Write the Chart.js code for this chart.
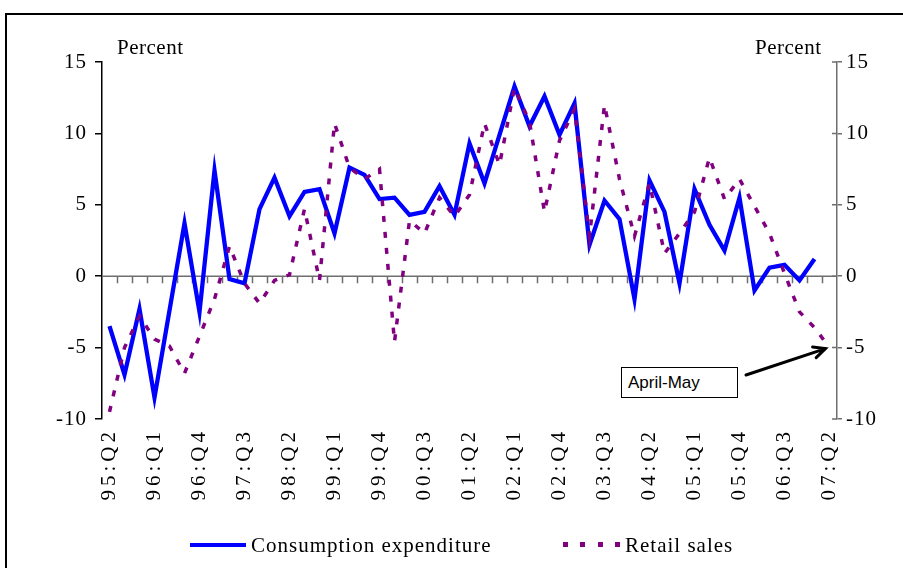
<!DOCTYPE html>
<html><head><meta charset="utf-8">
<script src="https://cdn.jsdelivr.net/npm/chart.js@4"></script>
<style>
body{margin:0;background:#fff;}
#wrap{position:relative;width:903px;height:568px;overflow:hidden;background:#fff;}
#frame{position:absolute;left:5px;top:13px;width:1000px;height:1000px;border-left:2px solid #000;border-top:2px solid #000;}
canvas{position:absolute;left:0;top:0;}
.t{position:absolute;font-family:"Liberation Serif","Times New Roman",serif;font-size:21px;color:#000;white-space:nowrap;line-height:1;}
#note{position:absolute;left:621px;top:367px;width:109px;height:29px;border:1.5px solid #000;background:#fff;font-family:"Liberation Sans",Arial,sans-serif;font-size:17px;line-height:29px;padding-left:6px;box-sizing:content-box;}
</style></head>
<body>
<div id="wrap">
<div id="frame"></div>
<canvas id="c" width="903" height="568"></canvas>
<div class="t" style="left:117px;top:37px;letter-spacing:0.5px;">Percent</div>
<div class="t" style="left:755px;top:37px;letter-spacing:0.5px;">Percent</div>
<div id="note">April-May</div>
<div style="position:absolute;left:190px;top:543px;width:56px;height:4px;background:#0000ff;"></div>
<div class="t" style="left:251px;top:535px;letter-spacing:1px;">Consumption expenditure</div>
<div style="position:absolute;left:563px;top:542px;width:58px;height:5px;background:repeating-linear-gradient(90deg,#800080 0 5px,transparent 5px 17.5px);"></div>
<div class="t" style="left:625px;top:535px;letter-spacing:1px;">Retail sales</div>
</div>
<script>
const quarters = ['95:Q2','95:Q3','95:Q4','96:Q1','96:Q2','96:Q3','96:Q4','97:Q1','97:Q2','97:Q3','97:Q4','98:Q1','98:Q2','98:Q3','98:Q4','99:Q1','99:Q2','99:Q3','99:Q4','00:Q1','00:Q2','00:Q3','00:Q4','01:Q1','01:Q2','01:Q3','01:Q4','02:Q1','02:Q2','02:Q3','02:Q4','03:Q1','03:Q2','03:Q3','03:Q4','04:Q1','04:Q2','04:Q3','04:Q4','05:Q1','05:Q2','05:Q3','05:Q4','06:Q1','06:Q2','06:Q3','06:Q4','07:Q1','07:Q2'];
const consumption = [-3.5,-6.9,-2.3,-8.5,-2.4,3.7,-2.5,7.4,-0.2,-0.5,4.7,6.9,4.2,5.9,6.1,3.0,7.6,7.1,5.4,5.5,4.3,4.5,6.3,4.3,9.3,6.5,9.9,13.3,10.5,12.6,9.9,12.1,2.2,5.3,4.0,-1.6,6.7,4.5,-0.5,6.1,3.6,1.8,5.5,-1.0,0.6,0.8,-0.3,1.2];
const retail = [-9.5,-5.0,-2.8,-4.4,-4.9,-6.8,-4.2,-1.6,2.1,-0.5,-1.9,-0.3,0.1,4.7,-0.3,10.7,7.6,6.8,7.5,-4.6,3.9,3.0,5.5,4.2,5.7,10.7,7.8,13.2,10.8,4.5,9.5,11.7,2.8,12.0,6.8,2.8,6.5,1.6,3.0,4.5,8.3,5.4,6.8,4.9,3.0,0.2,-2.5,-3.6,-5.0];
const yTicks = [-10,-5,0,5,10,15];
const labelEvery = 3;
const noteIndex = 48;

const serif = {family:'"Liberation Serif","Times New Roman",serif', size:21};

// letter spacing for the axis labels (the original typeface is wider)
const spacing = {
  id:'spacing',
  beforeDraw(chart){
    const sp = {x:'4px', y:'1px', y2:'1px'};
    for(const id in sp){
      const s = chart.scales[id];
      if(!s || s._spWrapped) continue;
      const orig = s.drawLabels;
      s.drawLabels = function(a){
        const c = this.ctx, old = c.letterSpacing;
        c.letterSpacing = sp[id];
        orig.call(this, a);
        c.letterSpacing = old || '0px';
      };
      s._spWrapped = true;
    }
  }
};

const zeroLine = {
  id:'zeroLine',
  beforeDatasetsDraw(chart){
    const {ctx, chartArea:a, scales:{x,y}} = chart;
    const y0 = y.getPixelForValue(0);
    ctx.save();
    ctx.strokeStyle = '#6e6e6e';
    ctx.lineWidth = 1.5;
    ctx.beginPath();
    ctx.moveTo(a.left, y0); ctx.lineTo(a.right, y0);
    for(let i=1;i<quarters.length;i++){
      const xm = Math.round((x.getPixelForValue(i-1)+x.getPixelForValue(i))/2)+0.5;
      ctx.moveTo(xm, y0); ctx.lineTo(xm, y0+7);
    }
    ctx.stroke();
    // right axis ticks cross the axis
    const r = a.right;
    ctx.beginPath();
    yTicks.forEach(v=>{ const yy = y.getPixelForValue(v); ctx.moveTo(r-5, yy); ctx.lineTo(r, yy); });
    ctx.stroke();
    ctx.restore();
  }
};
const arrow = {
  id:'arrow',
  afterDatasetsDraw(chart){
    const {ctx, scales:{x,y}} = chart;
    const tx = x.getPixelForValue(noteIndex)-4, ty = y.getPixelForValue(retail[noteIndex])+1;
    const sx = 746, sy = 375;
    const ang = Math.atan2(ty-sy, tx-sx);
    ctx.save();
    ctx.strokeStyle='#000'; ctx.lineWidth=3; ctx.lineCap='round';
    ctx.beginPath(); ctx.moveTo(sx,sy); ctx.lineTo(tx,ty);
    const L=13, s=0.45;
    ctx.moveTo(tx-L*Math.cos(ang-s), ty-L*Math.sin(ang-s)); ctx.lineTo(tx,ty);
    ctx.lineTo(tx-L*Math.cos(ang+s), ty-L*Math.sin(ang+s));
    ctx.stroke(); ctx.restore();
  }
};

new Chart(document.getElementById('c'), {
  type:'line',
  data:{labels:quarters, datasets:[
    {label:'Retail sales', data:retail, borderColor:'#800080', borderWidth:3.5, borderDash:[6,10], pointRadius:0, tension:0, fill:false},
    {label:'Consumption expenditure', data:consumption, borderColor:'#0000ff', borderWidth:4.3, pointRadius:0, tension:0, fill:false}
  ]},
  options:{
    responsive:false, animation:false, devicePixelRatio:1,
    layout:{padding:{top:62,bottom:0,left:0,right:0}},
    plugins:{legend:{display:false}, tooltip:{enabled:false}},
    scales:{
      x:{type:'category', offset:true,
        grid:{display:false, drawTicks:false}, border:{display:false},
        ticks:{autoSkip:false, maxRotation:90, minRotation:90, padding:9, color:'#000', font:serif,
          callback:(v,i)=> i%labelEvery===0 ? quarters[i] : ''},
        afterFit(s){ s.height = 149; }
      },
      y:{position:'left', min:yTicks[0], max:yTicks[yTicks.length-1],
        afterBuildTicks(s){ s.ticks = yTicks.map(v=>({value:v})); },
        grid:{drawOnChartArea:false, drawTicks:true, tickLength:7, color:'#000', lineWidth:1.5},
        border:{color:'#000', width:1.5},
        ticks:{color:'#000', font:serif, padding:8},
        afterFit(s){ s.width = 102; }
      },
      y2:{position:'right', min:yTicks[0], max:yTicks[yTicks.length-1],
        afterBuildTicks(s){ s.ticks = yTicks.map(v=>({value:v})); },
        grid:{drawOnChartArea:false, drawTicks:true, tickLength:5, color:'#6e6e6e', lineWidth:1.5},
        border:{color:'#6e6e6e', width:1.5},
        ticks:{color:'#000', font:serif, padding:4},
        afterFit(s){ s.width = 66; }
      }
    }
  },
  plugins:[spacing, zeroLine, arrow]
});
</script>
</body></html>
